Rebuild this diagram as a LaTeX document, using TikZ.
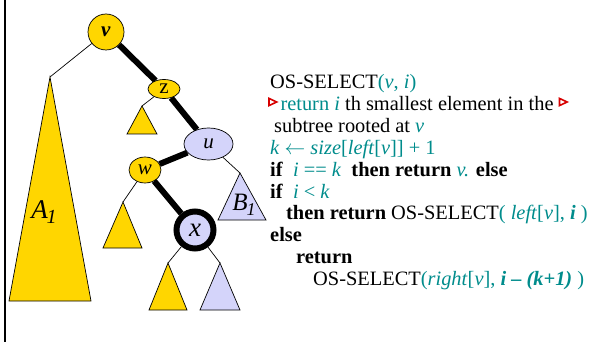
\documentclass[tikz,border=0pt]{standalone}
\usepackage{fontspec}
\setmainfont{Liberation Serif}
\usetikzlibrary{shapes.geometric,backgrounds}

\definecolor{gold}{RGB}{255,214,0}
\definecolor{lav}{RGB}{212,212,250}
\definecolor{tealtxt}{RGB}{0,140,140}
\definecolor{markred}{RGB}{215,0,0}

% teal text and the red comment marker
\newcommand{\tl}[1]{\textcolor{tealtxt}{#1}}
\newcommand{\mk}{\tikz[x=1pt,y=1pt,baseline=0pt]\draw[markred,line width=1.6pt,line join=miter] (0.8,5.2)--(8.5,8.8)--(0.8,12.4)--cycle;}

\tikzset{
  treenode/.style={draw=black, line width=0.7pt, inner sep=0pt, font=\fontsize{21}{21}\selectfont},
  goldnode/.style={treenode, fill=gold},
  lavnode/.style={treenode, fill=lav},
  thinedge/.style={draw=black, line width=0.7pt},
  thickedge/.style={draw=black, line width=6pt},
  subtree/.style={draw=black, line width=0.7pt, line join=miter},
  codeline/.style={anchor=base west, inner sep=0pt, text height=14pt, text depth=4pt,
                   font=\fontsize{20.4}{22}\selectfont},
}

\begin{document}
\begin{tikzpicture}[x=1pt,y=-1pt]
\useasboundingbox (0,0) rectangle (592,342);
\draw[line width=1.5pt] (5,0) -- (5,342);

% tree nodes
\node[goldnode, circle, minimum size=36pt] (v) at (106,32) {\textbf{\textit{v}}};
\node[goldnode, ellipse, minimum width=32pt, minimum height=19pt] (z) at (164,89) {z};
\node[lavnode, ellipse, minimum width=49pt, minimum height=32pt] (u) at (208.5,144) {\textit{u}};
\node[goldnode, ellipse, minimum width=32pt, minimum height=26pt] (w) at (145,170) {\textit{w}};
\node[lavnode, circle, line width=6pt, minimum size=37pt, font=\fontsize{27}{27}\selectfont] (x) at (195,230) {\textit{x}};

% subtree apexes
\coordinate (a1) at (50,77);
\coordinate (zl) at (142,106);
\coordinate (b1) at (240,173);
\coordinate (wl) at (123,202);
\coordinate (xl) at (168,263);
\coordinate (xr) at (220,263);

% subtrees
\filldraw[subtree, fill=gold] (a1) -- (9,301) -- (91,301) -- cycle;
\filldraw[subtree, fill=gold] (zl) -- (127,134) -- (157,134) -- cycle;
\filldraw[subtree, fill=lav] (b1) -- (218,220) -- (266,220) -- cycle;
\filldraw[subtree, fill=gold] (wl) -- (103,248) -- (142,248) -- cycle;
\filldraw[subtree, fill=gold] (xl) -- (149,310) -- (187,310) -- cycle;
\filldraw[subtree, fill=lav] (xr) -- (200,310) -- (240,310) -- cycle;

\node[font=\fontsize{27}{27}\selectfont\itshape] (a1lbl) at (44,212) {A\kern-1pt\raisebox{-5pt}{\fontsize{20}{20}\selectfont 1}};
\node[font=\fontsize{25}{25}\selectfont\itshape] (b1lbl) at (244,205) {B\kern-1pt\raisebox{-5pt}{\fontsize{18}{18}\selectfont 1}};

% connectors
\begin{scope}[on background layer]
\draw[thinedge] (v) -- (a1);
\draw[thinedge] (z) -- (zl);
\draw[thinedge] (u) -- (b1);
\draw[thinedge] (w) -- (wl);
\draw[thinedge] (x) -- (xl);
\draw[thinedge] (x) -- (xr);
\draw[thickedge] (v) -- (z);
\draw[thickedge] (z) -- (u);
\draw[thickedge] (u) -- (w);
\draw[thickedge] (w) -- (x);
\end{scope}

% pseudocode
\node[codeline] (l1) at (270,89) {OS-SELECT\tl{(\textit{v}, \textit{i})}};
\node[codeline] (l2) at (268,110.8) {\mk\hspace{3pt}\tl{return \textit{i}} th smallest element in the \mk};
\node[codeline] (l3) at (274,132.6) {subtree rooted at \tl{\textit{v}}};
\node[codeline] (l4) at (270,155) {\tl{\textit{k} $\leftarrow$ \textit{size}[\textit{left}[\textit{v}]] + 1}};
\node[codeline] (l5) at (270,176.2) {\textbf{if}\ \ \tl{\textit{i} == \textit{k}}\ \ \textbf{then return} \tl{\textit{v.}} \textbf{else}};
\node[codeline] (l6) at (270,198) {\textbf{if}\ \ \tl{\textit{i} < \textit{k}}};
\node[codeline] (l7) at (286,219.8) {\textbf{then return} OS-SELECT\tl{( \textit{left}[\textit{v}], \textbf{\textit{i}} )}};
\node[codeline] (l8) at (270,241.6) {\textbf{else}};
\node[codeline] (l9) at (296,263.4) {\textbf{return}};
\node[codeline] (l10) at (313,285.2) {OS-SELECT\tl{(\textit{right}[\textit{v}], \textbf{\textit{i – (k+1)}} )}};
\end{tikzpicture}
\end{document}
